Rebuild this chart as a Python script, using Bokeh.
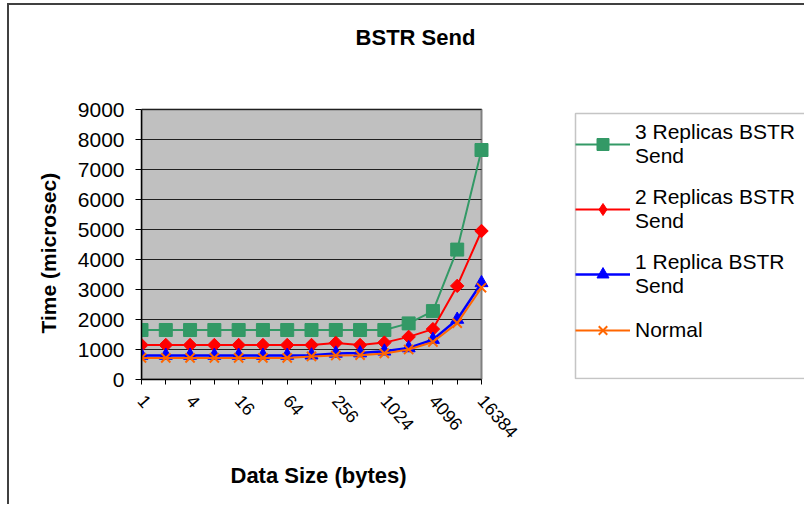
from bokeh.plotting import figure
from bokeh.models import (FixedTicker, Legend, LegendItem, Range1d, Label, Title,
                          BoxAnnotation)
from bokeh.embed import file_html
from bokeh.resources import INLINE

# ---- data ----
sizes = ["1", "2", "4", "8", "16", "32", "64", "128", "256", "512",
         "1024", "2048", "4096", "8192", "16384"]
replicas3 = [1650, 1650, 1650, 1650, 1650, 1650, 1650, 1650, 1650, 1650,
             1650, 1870, 2280, 4330, 7650]
replicas2 = [1150, 1150, 1150, 1150, 1150, 1150, 1150, 1150, 1220, 1150,
             1230, 1420, 1680, 3120, 4950]
replica1 = [800, 800, 800, 800, 800, 800, 800, 810, 870, 880,
            940, 1050, 1330, 2000, 3220]
normal = [720, 720, 720, 720, 720, 720, 720, 770, 800, 810,
          870, 1000, 1250, 1880, 3060]
y_ticks = [0, 1000, 2000, 3000, 4000, 5000, 6000, 7000, 8000, 9000]
series_names = ["3 Replicas BSTR\nSend", "2 Replicas BSTR\nSend",
                "1 Replica BSTR\nSend", "Normal"]

x = list(range(len(sizes)))
FONT = "Liberation Sans"

# layout (canvas pixels): plot area 340 x 270 px, frame extended to the right/top
W, H = 797, 501
LEFT, BOTTOM = 132, 127
AREA_W, AREA_H = 340, 270
frame_w = W - LEFT
frame_h = H - BOTTOM

p = figure(width=W, height=H, output_backend="svg", toolbar_location=None,
           x_range=Range1d(0, (len(x) - 1) * frame_w / AREA_W),
           y_range=Range1d(0, y_ticks[-1] * frame_h / AREA_H),
           min_border_left=LEFT, min_border_right=0,
           min_border_top=0, min_border_bottom=BOTTOM)
p.styles = {"margin-left": "7px", "margin-top": "3px",
            "border-left": "2px solid #404040", "border-top": "2px solid #404040"}

p.background_fill_color = "white"
p.border_fill_color = "white"
p.outline_line_color = None
p.xgrid.visible = False
p.ygrid.visible = False

# plot area (grey) + horizontal gridlines
p.quad(left=[x[0]], right=[x[-1]], bottom=[y_ticks[0]], top=[y_ticks[-1]],
       fill_color="#C0C0C0", line_color="#808080", line_width=2)
p.segment(x0=[x[0]] * len(y_ticks), x1=[x[-1]] * len(y_ticks),
          y0=y_ticks, y1=y_ticks, line_color="#202020", line_width=1)

# y axis
p.yaxis.ticker = FixedTicker(ticks=y_ticks)
p.yaxis.bounds = (y_ticks[0], y_ticks[-1])
p.yaxis.minor_tick_line_color = None
p.yaxis.major_tick_out = 6
p.yaxis.major_tick_in = 0
p.yaxis.axis_line_color = "black"
p.yaxis.axis_line_width = 1.5
p.yaxis.major_label_text_font = FONT
p.yaxis.major_label_text_font_size = "21px"
p.yaxis.major_label_text_color = "black"
p.yaxis.major_label_standoff = 11

# x axis
p.xaxis.ticker = FixedTicker(ticks=x)
p.xaxis.bounds = (x[0], x[-1])
p.xaxis.minor_tick_line_color = None
p.xaxis.major_tick_out = 5
p.xaxis.major_tick_in = 0
p.xaxis.axis_line_color = "black"
p.xaxis.axis_line_width = 1.5
p.xaxis.major_label_overrides = {i: (sizes[i] if i % 2 == 0 else "") for i in x}
p.xaxis.major_label_orientation = -0.85
p.xaxis.major_label_text_font = FONT
p.xaxis.major_label_text_font_size = "18px"
p.xaxis.major_label_text_color = "black"
p.xaxis.major_label_standoff = 13

# axis titles (as side-panel titles so they can be positioned)
ytitle = Title(text="Time (microsec)", align="left", offset=46, standoff=30,
               text_font=FONT, text_font_size="21px", text_font_style="bold",
               text_color="black")
p.add_layout(ytitle, "left")
xtitle = Title(text="Data Size (bytes)", align="left", offset=89, standoff=28,
               text_font=FONT, text_font_size="22px", text_font_style="bold",
               text_color="black")
p.add_layout(xtitle, "below")

# series
r3l = p.line(x, replicas3, line_color="#339966", line_width=2)
r3m = p.scatter(x, replicas3, marker="square", size=13,
                fill_color="#339966", line_color="#339966")
r2l = p.line(x, replicas2, line_color="#FF0000", line_width=2)
r2d = p.scatter(x, replicas2, marker="diamond", size=12,
                fill_color="#FF0000", line_color="#FF0000")
r2m = p.scatter(x, replicas2, marker="square", size=9.5, angle=0.785398,
                fill_color="#FF0000", line_color="#FF0000")
r1l = p.line(x, replica1, line_color="#0000FF", line_width=2.5)
r1m = p.scatter(x, replica1, marker="triangle", size=13,
                fill_color="#0000FF", line_color="#0000FF")
rnl = p.line(x, normal, line_color="#FF6600", line_width=2)
rnm = p.scatter(x, normal, marker="x", size=13, line_color="#FF6600", line_width=2)

# legend frame (drawn separately so it can be taller than its content)
legend_box = BoxAnnotation(left=564, right=900, top=106, bottom=371,
                           left_units="canvas", right_units="canvas",
                           top_units="canvas", bottom_units="canvas",
                           fill_color="white", fill_alpha=1,
                           line_color="#404040", line_width=1.5)
p.add_layout(legend_box)

legend = Legend(items=[
    LegendItem(label=series_names[0], renderers=[r3l, r3m]),
    LegendItem(label=series_names[1], renderers=[r2l, r2d]),
    LegendItem(label=series_names[2], renderers=[r1l, r1m]),
    LegendItem(label=series_names[3], renderers=[rnl, rnm]),
], location=(434, 34))
legend.label_text_font = FONT
legend.label_text_font_size = "21px"
legend.label_text_color = "black"
legend.glyph_width = 55
legend.glyph_height = 30
legend.label_standoff = 5
legend.padding = 6
legend.margin = 0
legend.spacing = 17
legend.border_line_color = None
legend.background_fill_alpha = 0
p.add_layout(legend)

# chart title
title = Label(x=404, y=30, x_units="canvas", y_units="canvas", text="BSTR Send",
              text_align="center", text_baseline="middle",
              text_font=FONT, text_font_size="22px", text_font_style="bold",
              text_color="black")
p.add_layout(title)

open("out.html", "w").write(file_html(p, INLINE))
